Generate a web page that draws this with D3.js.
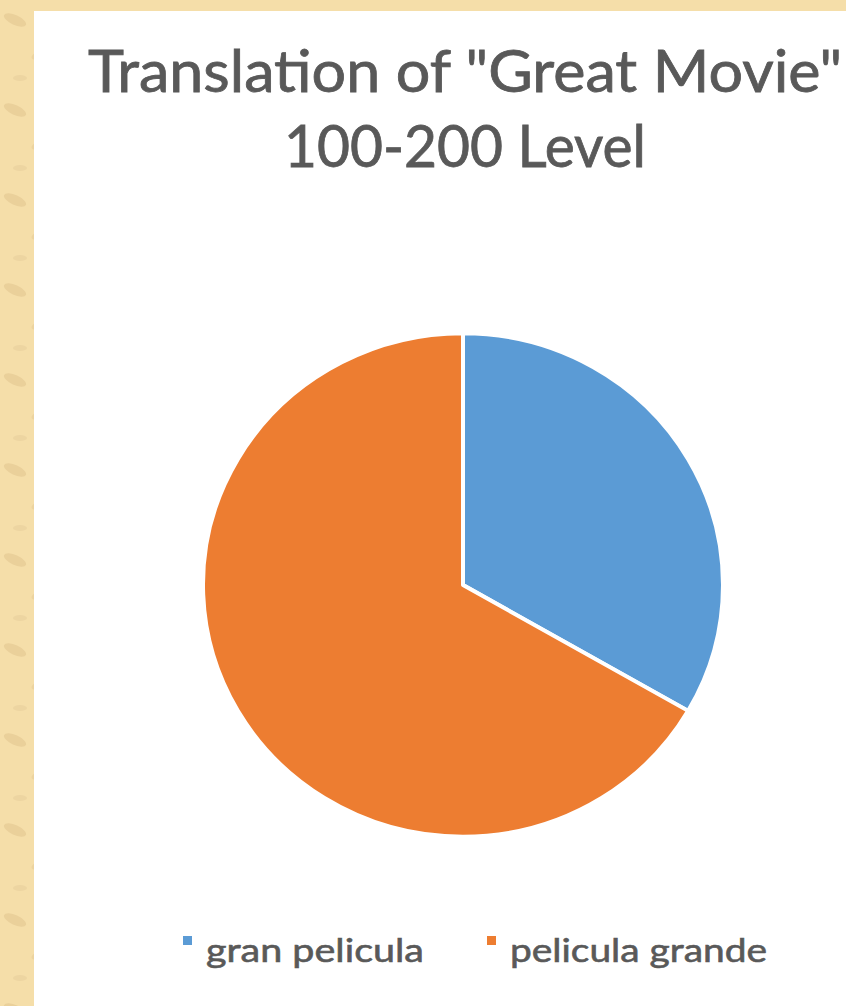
<!DOCTYPE html>
<html>
<head>
<meta charset="utf-8">
<script src="https://cdn.jsdelivr.net/npm/d3@7"></script>
<style>
  html, body { margin: 0; padding: 0; background: #f4dca6; }
  svg { display: block; }
</style>
</head>
<body>
<svg id="chart"></svg>
<script>
const categories = ["gran pelicula", "pelicula grande"];
const values = [1, 2];
const titleLines = ['Translation of "Great Movie"', "100-200 Level"];

const width = 846;
const height = 1006;
const panel = { x: 34, y: 11 };
const colors = ["#5b9bd5", "#ed7d31"];

const svg = d3.select("#chart").attr("width", width).attr("height", height);

// parchment texture
const defs = svg.append("defs");
const pat = defs
  .append("pattern")
  .attr("id", "parch")
  .attr("width", 60)
  .attr("height", 90)
  .attr("patternUnits", "userSpaceOnUse");
pat.append("rect").attr("width", 60).attr("height", 90).attr("fill", "#f5dea9");
pat.append("ellipse").attr("cx", 15).attr("cy", 20).attr("rx", 12).attr("ry", 5)
  .attr("transform", "rotate(25 15 20)").attr("fill", "#ead09a");
pat.append("ellipse").attr("cx", 40).attr("cy", 55).attr("rx", 9).attr("ry", 4)
  .attr("transform", "rotate(-20 40 55)").attr("fill", "#ecd39e");
pat.append("ellipse").attr("cx", 20).attr("cy", 78).attr("rx", 7).attr("ry", 3)
  .attr("fill", "#edd5a1");

svg.append("rect").attr("width", width).attr("height", height).attr("fill", "url(#parch)");

// white chart area
svg
  .append("rect")
  .attr("x", panel.x)
  .attr("y", panel.y)
  .attr("width", width - panel.x)
  .attr("height", height - panel.y)
  .attr("fill", "#ffffff");

const font = "Lato, 'Open Sans', sans-serif";

// title
const titleWidths = [754, 362];
const titleY = [92, 167];
titleLines.forEach((t, i) => {
  svg
    .append("text")
    .attr("x", 465)
    .attr("y", titleY[i])
    .attr("text-anchor", "middle")
    .attr("font-family", font)
    .attr("font-size", 58)
    .attr("fill", "#595959")
    .attr("stroke", "#595959")
    .attr("stroke-width", 0.8)
    .attr("textLength", titleWidths[i])
    .attr("lengthAdjust", "spacingAndGlyphs")
    .text(t);
});

// pie (picture is slightly squashed vertically)
const cx = 463;
const cy = 585;
const radius = 260;

const pie = d3.pie().sort(null).value((d) => d);
const arc = d3.arc().innerRadius(0).outerRadius(radius);

svg
  .append("g")
  .attr("transform", `translate(${cx},${cy}) scale(1,0.968)`)
  .selectAll("path")
  .data(pie(values))
  .join("path")
  .attr("d", arc)
  .attr("fill", (_, i) => colors[i])
  .attr("stroke", "#ffffff")
  .attr("stroke-width", 4)
  .attr("stroke-linejoin", "round");

// legend
const legendX = [183, 487];
const legendW = [218, 257];
const legend = svg
  .append("g")
  .selectAll("g")
  .data(categories)
  .join("g")
  .attr("transform", (_, i) => `translate(${legendX[i]},0)`);

legend
  .append("rect")
  .attr("x", 0)
  .attr("y", 936)
  .attr("width", 9)
  .attr("height", 9)
  .attr("fill", (_, i) => colors[i]);

legend
  .append("text")
  .attr("x", 23)
  .attr("y", 962)
  .attr("font-family", font)
  .attr("font-size", 33)
  .attr("fill", "#595959")
  .attr("stroke", "#595959")
  .attr("stroke-width", 0.6)
  .attr("textLength", (_, i) => legendW[i])
  .attr("lengthAdjust", "spacingAndGlyphs")
  .text((d) => d);
</script>
</body>
</html>
